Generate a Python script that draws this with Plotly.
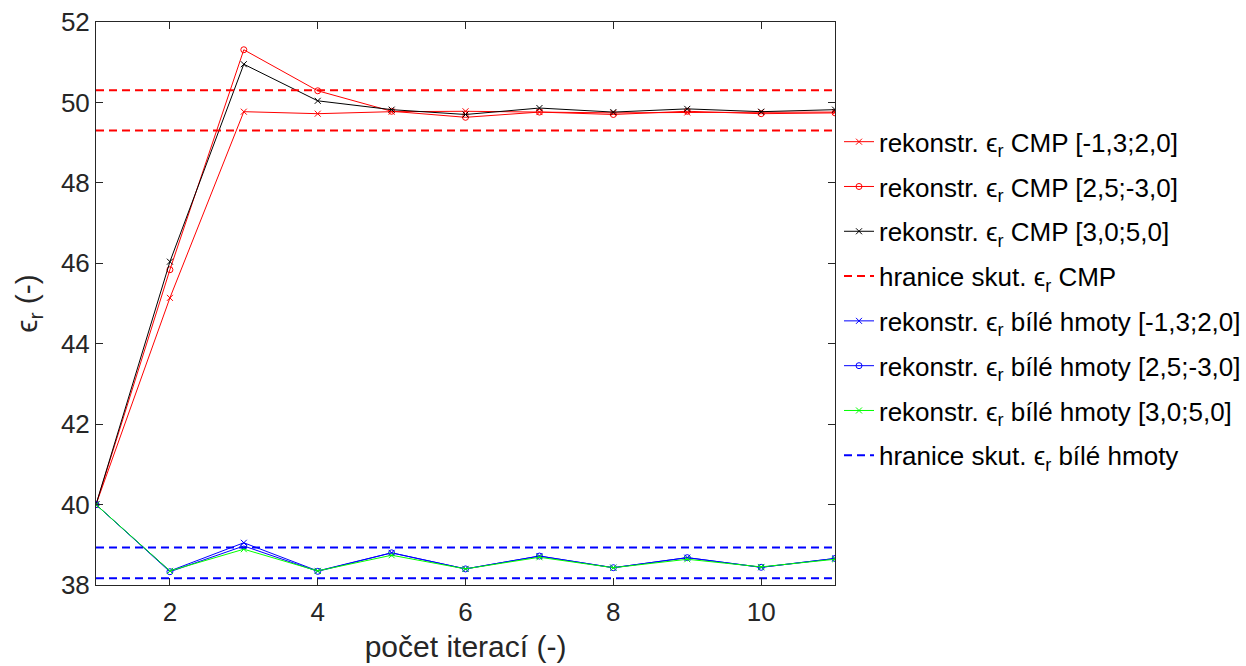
import plotly.graph_objects as go

iterations = [1, 2, 3, 4, 5, 6, 7, 8, 9, 10, 11]

cmp_a = [40.0, 45.14, 49.77, 49.72, 49.77, 49.78, 49.76, 49.74, 49.75, 49.76, 49.76]
cmp_b = [40.0, 45.84, 51.31, 50.29, 49.78, 49.63, 49.76, 49.70, 49.78, 49.72, 49.74]
cmp_c = [40.0, 46.04, 50.95, 50.04, 49.82, 49.70, 49.86, 49.76, 49.84, 49.77, 49.82]
cmp_bounds = [50.3, 49.3]

wm_a = [40.0, 38.35, 39.05, 38.35, 38.80, 38.40, 38.72, 38.43, 38.68, 38.44, 38.66]
wm_b = [40.0, 38.33, 38.97, 38.34, 38.80, 38.40, 38.72, 38.43, 38.68, 38.44, 38.66]
wm_c = [40.0, 38.35, 38.89, 38.35, 38.74, 38.40, 38.69, 38.43, 38.64, 38.45, 38.64]
wm_bounds = [38.93, 38.17]

EPS = "\u03f5<sub>r</sub>"
FONT = "Liberation Sans, Arial, sans-serif"
INK = "#262626"

# page geometry (px)
W, H = 1246, 666
LEFT, TOP, BOTTOM = 96, 22, 81
PLOT_RIGHT = 837
PAPER_W = W - LEFT

fig = go.Figure()

def add_series(y, color, symbol, name, group):
    fig.add_trace(go.Scatter(
        x=iterations, y=y, mode="lines+markers", name=name,
        legendgroup=group,
        line=dict(color=color, width=1),
        marker=dict(symbol=symbol, size=6, color=color,
                    line=dict(color=color, width=1)),
    ))

def add_bounds(levels, color, name, group):
    for i, lv in enumerate(levels):
        fig.add_trace(go.Scatter(
            x=[iterations[0], iterations[-1]], y=[lv, lv], mode="lines",
            name=name, legendgroup=group, showlegend=(i == 0),
            line=dict(color=color, width=2, dash="8px,5px"),
        ))

add_series(cmp_a, "#ff0000", "x-thin", f"rekonstr. {EPS} CMP [-1,3;2,0]", "g1")
add_series(cmp_b, "#ff0000", "circle-open", f"rekonstr. {EPS} CMP [2,5;-3,0]", "g2")
add_series(cmp_c, "#000000", "x-thin", f"rekonstr. {EPS} CMP [3,0;5,0]", "g3")
add_bounds(cmp_bounds, "#ff0000", f"hranice skut. {EPS} CMP", "g4")
add_series(wm_a, "#0000ff", "x-thin", f"rekonstr. {EPS} bílé hmoty [-1,3;2,0]", "g5")
add_series(wm_b, "#0000ff", "circle-open", f"rekonstr. {EPS} bílé hmoty [2,5;-3,0]", "g6")
add_series(wm_c, "#00ff00", "x-thin", f"rekonstr. {EPS} bílé hmoty [3,0;5,0]", "g7")
add_bounds(wm_bounds, "#0000ff", f"hranice skut. {EPS} bílé hmoty", "g8")

axis_common = dict(
    showline=True, linecolor=INK, linewidth=1, mirror="ticks",
    ticks="inside", ticklen=7, tickcolor=INK,
    showgrid=False, zeroline=False,
    tickfont=dict(family=FONT, size=26, color=INK),
)

fig.update_layout(
    width=W, height=H,
    margin=dict(l=LEFT, r=0, t=TOP, b=BOTTOM),
    plot_bgcolor="white", paper_bgcolor="white",
    font=dict(family=FONT, color=INK),
    xaxis=dict(range=[1, 11], tickvals=[2, 4, 6, 8, 10],
               domain=[0, (PLOT_RIGHT - LEFT) / PAPER_W],
               ticklabelstandoff=4,
               title=dict(text="počet iterací (-)", font=dict(size=30, color=INK), standoff=9),
               **axis_common),
    yaxis=dict(range=[38, 52], tickvals=list(range(38, 53, 2)),
               title=dict(text=f"{EPS} (-)", font=dict(size=30, color=INK), standoff=14),
               **axis_common),
    legend=dict(x=(PLOT_RIGHT + 4 - LEFT) / PAPER_W, y=0.829,
                xanchor="left", yanchor="top",
                font=dict(family=FONT, size=26, color="#000000"),
                tracegroupgap=8, bgcolor="rgba(0,0,0,0)", itemwidth=30),
)

fig.write_html("out.html")
